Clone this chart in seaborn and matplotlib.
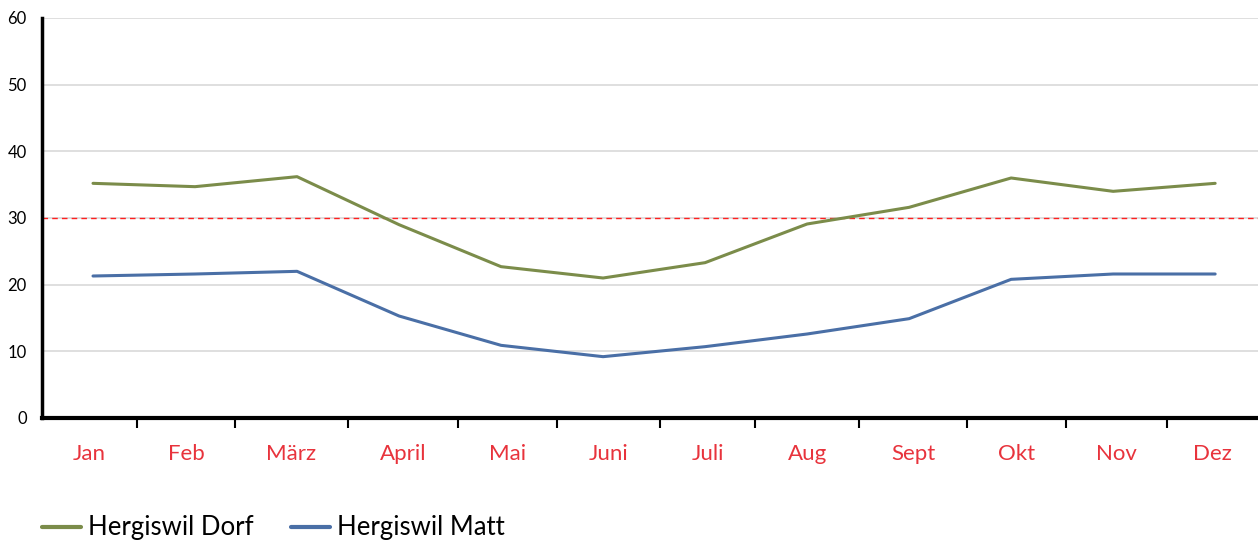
import matplotlib
matplotlib.use("Agg")
import matplotlib.pyplot as plt
import seaborn as sns
import pandas as pd
import numpy as np
from matplotlib.lines import Line2D

months = ["Jan", "Feb", "März", "April", "Mai", "Juni", "Juli", "Aug", "Sept", "Okt", "Nov", "Dez"]
dorf = [35.2, 34.7, 36.2, 29.0, 22.7, 21.0, 23.3, 29.1, 31.6, 36.0, 34.0, 35.2]
matt = [21.3, 21.6, 22.0, 15.3, 10.9, 9.2, 10.7, 12.6, 14.9, 20.8, 21.6, 21.6]
series_names = ["Hergiswil Dorf", "Hergiswil Matt"]
threshold = 30
yticks = [0, 10, 20, 30, 40, 50, 60]

sns.set_theme(style="white")
plt.rcParams["font.family"] = ["Lato", "DejaVu Sans"]
plt.rcParams["text.color"] = "black"

df = pd.DataFrame({
    "x": list(range(len(months))) * 2,
    "value": dorf + matt,
    "series": [series_names[0]] * len(months) + [series_names[1]] * len(months),
})

fig = plt.figure(figsize=(12.58, 5.41), dpi=100)
ax = fig.add_axes([42 / 1258, 123 / 541, 1 - 42 / 1258, 400 / 541])

palette = {series_names[0]: "#7B8C4A", series_names[1]: "#4A6FA6"}
sns.lineplot(data=df, x="x", y="value", hue="series", palette=palette,
             linewidth=2.2, ax=ax, legend=False, zorder=3)

ax.axhline(threshold, color="#FF2020", linestyle=(0, (4, 3)), linewidth=1, zorder=2)

ax.set_ylim(0, 60)
ax.set_xlim(-0.5, 11.42)
ax.set_yticks(yticks)
ax.set_yticklabels([str(t) for t in yticks])
ax.yaxis.grid(True, color="#D9D9D9", linewidth=1.2)
ax.set_axisbelow(True)

# category boundaries (tick marks) and label positions
edges = [-0.5, 0.431, 1.392, 2.5, 3.578, 4.549, 5.559, 6.49, 7.51, 8.569, 9.539, 10.529, 11.42]
ax.set_xticks(edges[1:-1])
ax.set_xticklabels([])
mids = [(edges[i] + edges[i + 1]) / 2 for i in range(len(months))]
ax.set_xticks(mids, minor=True)
ax.set_xticklabels(months, minor=True)
ax.tick_params(axis="x", which="major", length=7, width=1.5, color="black", direction="out", bottom=True)
ax.tick_params(axis="x", which="minor", length=0, pad=19, labelsize=16, labelcolor="#E8333C")
ax.tick_params(axis="y", which="major", length=0, pad=11, labelsize=12, labelcolor="black")

ax.set_xlabel("")
ax.set_ylabel("")
for s in ["top", "right"]:
    ax.spines[s].set_visible(False)
ax.spines["left"].set_linewidth(2.5)
ax.spines["left"].set_color("black")
ax.spines["bottom"].set_linewidth(3)
ax.spines["bottom"].set_color("black")

handles = [Line2D([0], [0], color=palette[n], linewidth=3) for n in series_names]
fig.legend(handles, series_names, loc="center left", bbox_to_anchor=(42 / 1258, 13 / 541),
           ncol=2, frameon=False, fontsize=18.5, handlelength=1.5, handletextpad=0.3,
           columnspacing=1.45, borderpad=0, borderaxespad=0, labelcolor="black")

fig.savefig("out.png", dpi=100)
